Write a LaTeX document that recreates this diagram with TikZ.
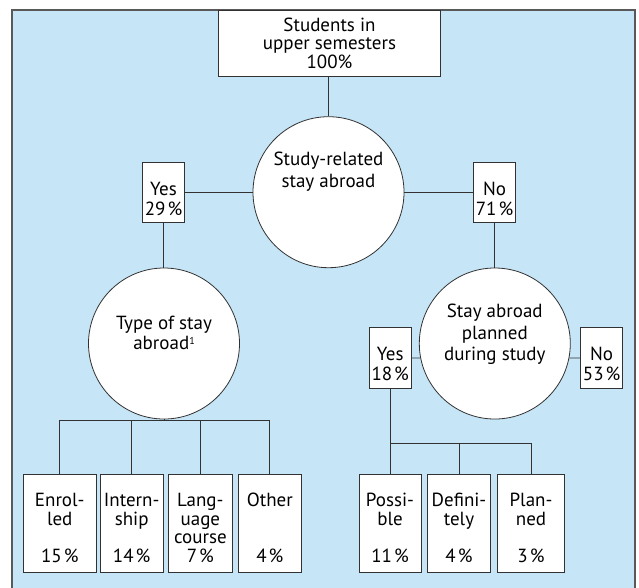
\documentclass[tikz,border=0pt]{standalone}
\usepackage{fontspec}
\setmainfont{PT Sans}
\definecolor{bgblue}{RGB}{198,229,246}
\definecolor{ink}{RGB}{50,50,50}
\newcommand{\supone}{\raisebox{5pt}{\fontsize{10}{10}\selectfont 1}}
\newcommand{\pct}{\kern2pt\%}
\begin{document}
\begin{tikzpicture}[x=1pt,y=-1pt,
  shp/.style={draw=ink, line width=0.8pt, fill=white, inner sep=0pt},
  box/.style={shp, rectangle},
  ynbox/.style={box, minimum width=41.6pt, minimum height=60.4pt},
  leafbox/.style={box, minimum height=98pt},
  disc/.style={shp, circle, minimum size=151pt},
  txt/.style={align=center, inner sep=0pt, text=black, font=\fontsize{19}{20}\selectfont},
  disctxt/.style={txt, font=\fontsize{19}{21.7}\selectfont},
  leaftxt/.style={txt, font=\fontsize{19}{18.8}\selectfont},
  conn/.style={draw=ink, line width=0.8pt}
]
\useasboundingbox (0,0) rectangle (639,587);
% background panel
\fill[bgblue] (12,10) rectangle (635,592);
\draw[draw=black!65, line width=1.2pt] (12,592) -- (12,10) -- (635,10) -- (635,592);

% top box
\node[box, minimum width=222pt, minimum height=65.5pt] (top) at (329.5,43.25) {};
\node[txt, font=\fontsize{19}{18.5}\selectfont] (toptxt) at (329.5,43.2) {Students in\\upper semesters\\100\%};

% first circle
\node[disc] (c1) at (328.5,192.2) {};
\node[disctxt] (c1txt) at (328.5,172) {Study-related\\stay abroad};

% yes / no boxes of first level
\node[ynbox] (y1) at (163.5,192.5) {};
\node[txt] (y1txt) at (163.5,198.8) {Yes\\29\pct};
\node[ynbox] (n1) at (494.5,192.5) {};
\node[txt] (n1txt) at (494.5,198.8) {No\\71\pct};

% second level circles
\node[disc] (c2) at (164,343.5) {};
\node[txt] (c2txt) at (164,333) {Type of stay\\abroad\supone};
\node[disc] (c3) at (494.8,343.5) {};
\node[disctxt] (c3txt) at (494.8,334.5) {Stay abroad\\planned\\during study};

% yes / no boxes of second level
\node[ynbox] (y2) at (390.2,358) {};
\node[txt] (y2txt) at (390.2,364.2) {Yes\\18\pct};
\node[ynbox] (n2) at (601.6,358) {};
\node[txt] (n2txt) at (601.6,364.2) {No\\53\pct};

% leaf boxes, left group
\node[leafbox, minimum width=72.5pt] (enr) at (59.75,523.25) {};
\node[leaftxt] (enrtxt) at (59.75,528) {Enrol-\\led\\[18.8pt]15\pct};
\node[leafbox, minimum width=63.3pt] (int) at (131.65,523.25) {};
\node[leaftxt] (inttxt) at (131.65,528) {Intern-\\ship\\[18.8pt]14\pct};
\node[leafbox, minimum width=63.3pt] (lan) at (200.35,523.25) {};
\node[leaftxt] (lantxt) at (200.35,528) {Lang-\\uage\\course\\7\pct};
\node[leafbox, minimum width=63pt] (oth) at (269.8,523.25) {};
\node[leaftxt] (othtxt) at (269.8,528) {Other\\[37.6pt]4\pct};

% leaf boxes, right group
\node[leafbox, minimum width=62pt] (pos) at (390,523.25) {};
\node[leaftxt] (postxt) at (390,528) {Possi-\\ble\\[18.8pt]11\pct};
\node[leafbox, minimum width=62.6pt] (dfn) at (459,523.25) {};
\node[leaftxt] (dfntxt) at (459,528) {Defini-\\tely\\[18.8pt]4\pct};
\node[leafbox, minimum width=66.6pt] (pla) at (531,523.25) {};
\node[leaftxt] (platxt) at (531,528) {Plan-\\ned\\[18.8pt]3\pct};

% bus points
\coordinate (b1) at (164,420.3);
\coordinate (b2) at (390.2,443.3);

% connectors
\draw[conn] (c1.north |- top.south) -- (c1.north);
\draw[conn] (y1.east) -- (y1.east -| c1.west);
\draw[conn] (c1.east) -- (c1.east -| n1.west);
\draw[conn] (y1.south) -- (y1.south |- c2.north);
\draw[conn] (n1.south) -- (n1.south |- c3.north);
\draw[conn] (y2.east) -- (c3.191);
\draw[conn] (c3.349) -- (n2.west);
\draw[conn] (c2.south) -- (b1);
\draw[conn] (enr.north) |- (b1) -| (oth.north);
\draw[conn] (int.north) -- (int.north |- b1);
\draw[conn] (lan.north) -- (lan.north |- b1);
\draw[conn] (y2.south) -- (b2);
\draw[conn] (b2) -- (b2 |- pos.north);
\draw[conn] (b2) -| (pla.north);
\draw[conn] (dfn.north) -- (dfn.north |- b2);
\end{tikzpicture}
\end{document}
